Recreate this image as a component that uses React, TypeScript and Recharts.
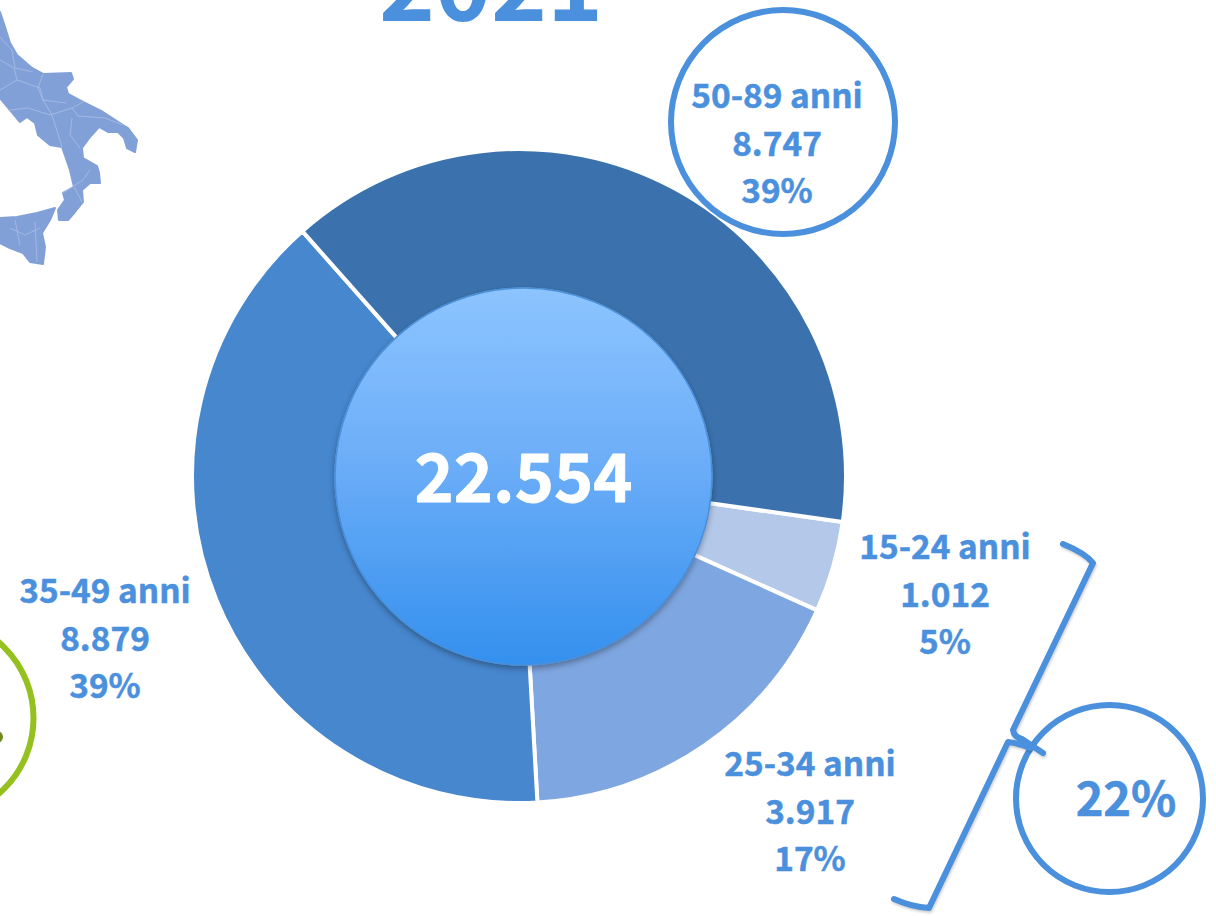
import { PieChart, Pie, Cell } from "recharts";

const ageGroups = ["15-24 anni", "25-34 anni", "35-49 anni", "50-89 anni"];
const ageValues = [1012, 3917, 8879, 8747];
const valueLabels = ["1.012", "3.917", "8.879", "8.747"];
const percentLabels = ["5%", "17%", "39%", "39%"];
const sliceColors = ["#b4c9ea", "#7ea6e0", "#4787ce", "#3b72ad"];
const totalValue = [22554];
const totalLabel = "22.554";
const youngShare = "22%";
const yearLabel = "2021";

const data = ageGroups.map((name, i) => ({ name, value: ageValues[i] }));
const totalData = totalValue.map((value) => ({ name: "Totale", value }));

// where each label block sits: center x, first baseline
const labelSpots = [
  [945, 559],
  [810, 776],
  [105, 603],
  [777, 108],
];

const BLUE = "#4a90dd";
const FONT = "'Noto Sans CJK SC', 'Noto Sans', sans-serif";

const mainland =
  "M0 12 L5 27 L10 43 L17 55 L32 68 L43 74 L71 73 L73 79 L66 87 L68 94 L83 102 L103 112 L123 125 L128 128 L137 140 L135 152 L127 148 L124 138 L118 132 L108 132 L99 127 L90 137 L82 148 L83 158 L97 166 L99 173 L100 183 L90 183 L82 190 L83 202 L75 212 L68 220 L59 220 L58 210 L65 200 L63 193 L74 187 L70 170 L62 147 L50 145 L38 135 L35 123 L27 117 L20 122 L10 110 L0 98 Z";
const sicily =
  "M0 218 L17 217 L37 213 L55 208 L50 220 L42 233 L45 247 L43 264 L30 262 L23 253 L10 248 L0 243 Z";
const borders = [
  "M0 37 L12 50 L15 68 L33 72",
  "M0 60 L14 68 L17 80 L0 90",
  "M43 74 L38 88 L43 100 L66 103",
  "M17 80 L40 88 L43 100 L52 115 L62 147",
  "M10 110 L28 108 L50 115 L72 108 L83 102",
  "M72 108 L78 116 L105 118 L123 125",
  "M72 118 L70 135 L80 148",
  "M63 193 L83 180 L90 170",
  "M74 187 L82 202",
  "M10 228 L25 235 L40 228",
  "M15 220 L20 245 M35 222 L37 262",
];

const boldText = { fontFamily: FONT, fontWeight: 700, strokeLinejoin: "round" as const };

export default function App() {
  return (
    <div style={{ position: "absolute", left: 0, top: 0, width: 1216, height: 916, background: "#fff", overflow: "hidden" }}>
      <svg width={1216} height={916} style={{ position: "absolute", left: 0, top: 0 }}>
        <g style={{ filter: "blur(0.6px)" }}>
          <path d={mainland} fill="#82a0d8" stroke="#82a0d8" strokeWidth={2} strokeLinejoin="round" />
          <path d={sicily} fill="#82a0d8" stroke="#82a0d8" strokeWidth={2} strokeLinejoin="round" />
          {borders.map((d) => (
            <path key={d} d={d} fill="none" stroke="#a9bee6" strokeWidth={0.8} />
          ))}
        </g>
      </svg>

      <div style={{ position: "absolute", left: 0, top: 0 }}>
        <PieChart width={1216} height={916} margin={{ top: 0, right: 0, bottom: 0, left: 0 }}>
          <defs>
            <linearGradient id="centerFill" x1="0" y1="0" x2="0" y2="1">
              <stop offset="0%" stopColor="#8cc4ff" />
              <stop offset="45%" stopColor="#6daef8" />
              <stop offset="100%" stopColor="#3490ee" />
            </linearGradient>
            <filter id="centerShadow" x="-10%" y="-10%" width="120%" height="120%">
              <feDropShadow dx="0" dy="3" stdDeviation="3" floodColor="#000" floodOpacity="0.35" />
            </filter>
          </defs>

          <Pie
            data={data}
            dataKey="value"
            nameKey="name"
            cx={519}
            cy={476}
            innerRadius={150}
            outerRadius={327}
            startAngle={-8.1}
            endAngle={-368.1}
            stroke="#fff"
            strokeWidth={4}
            isAnimationActive={false}
          >
            {data.map((entry, i) => (
              <Cell key={entry.name} fill={sliceColors[i]} />
            ))}
          </Pie>

          <Pie
            data={totalData}
            dataKey="value"
            cx={523.5}
            cy={476.5}
            innerRadius={0}
            outerRadius={189}
            startAngle={90}
            endAngle={-270}
            fill="url(#centerFill)"
            stroke="none"
            style={{ filter: "url(#centerShadow)" }}
            isAnimationActive={false}
          />
        </PieChart>
      </div>

      <svg width={1216} height={916} style={{ position: "absolute", left: 0, top: 0 }}>
        <circle cx={523.5} cy={476.5} r={188.5} fill="none" stroke="#4a8fd8" strokeWidth={1.5} />

        <text x={491} y={21} textAnchor="middle" {...boldText} fontSize={95} fill={BLUE}>
          {yearLabel}
        </text>

        <circle cx={783} cy={122} r={112} fill="#fff" stroke={BLUE} strokeWidth={6} />
        <circle cx={1109.5} cy={798.5} r={93.5} fill="none" stroke={BLUE} strokeWidth={6} />

        <circle cx={-66.5} cy={718} r={100} fill="none" stroke="#95c11f" strokeWidth={6} />
        <circle cx={-3} cy={737} r={6} fill="#6f8a1e" />

        <path
          d="M1063 544 Q1085 553 1093 563 L1013 730 Q1014 737 1022 739 L1043 753 M1030 748 Q1018 743 1008 742 L929 908 Q912 907 894 899"
          fill="none"
          stroke={BLUE}
          strokeWidth={6}
          strokeLinecap="round"
          strokeLinejoin="round"
          style={{ filter: "drop-shadow(1px 2px 1px rgba(0,0,0,0.18))" }}
        />

        {ageGroups.map((name, i) => (
          <text
            key={name}
            textAnchor="middle"
            {...boldText}
            fontSize={33.4}
            fill={BLUE}
            stroke={BLUE}
            strokeWidth={0.5}
          >
            <tspan x={labelSpots[i][0]} y={labelSpots[i][1]}>{name}</tspan>
            <tspan x={labelSpots[i][0]} y={labelSpots[i][1] + 47.5}>{valueLabels[i]}</tspan>
            <tspan x={labelSpots[i][0]} y={labelSpots[i][1] + 94.5}>{percentLabels[i]}</tspan>
          </text>
        ))}

        <text x={523.5} y={502} textAnchor="middle" {...boldText} fontSize={66.5} fill="#fff" stroke="#fff" strokeWidth={0.8}>
          {totalLabel}
        </text>
        <text x={1126} y={816} textAnchor="middle" {...boldText} fontSize={47} fill={BLUE} stroke={BLUE} strokeWidth={0.6}>
          {youngShare}
        </text>
      </svg>
    </div>
  );
}
